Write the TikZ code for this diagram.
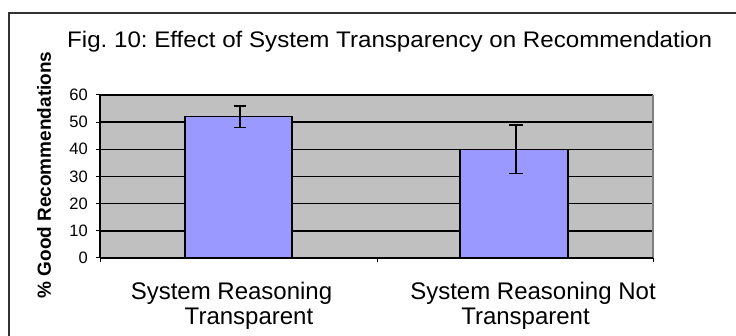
\documentclass[tikz,border=0pt]{standalone}
\usepackage{fontspec}
\setmainfont{Liberation Sans}
\frenchspacing
\definecolor{plotgray}{HTML}{C0C0C0}
\definecolor{barblue}{HTML}{9999FF}
\definecolor{framegray}{HTML}{333333}
\newcommand{\titlefont}{\fontsize{22.5}{27}\selectfont}
\newcommand{\tickfont}{\fontsize{16.5}{20}\selectfont}
\newcommand{\catfont}{\fontsize{24}{29}\selectfont}
\newcommand{\ylabfont}{\fontsize{19}{23}\selectfont\bfseries}
\tikzset{
    grid line/.style={black, line width=1.5pt},
    bar/.style={draw=black, line width=1.5pt, fill=barblue},
    err bar/.style={black, line width=1.4pt},
}
\begin{document}
\begin{tikzpicture}[x=1pt, y=1pt]
        \useasboundingbox (0,0) rectangle (736,336);
        \clip (0,0) rectangle (736,336);
        % outer chart frame
        \draw[framegray, line width=1.6pt] (9,-10) rectangle (750,323);
        \node[anchor=base west, inner sep=0pt, xscale=1.072] (title) at (67,288) {\titlefont Fig. 10: Effect of System Transparency on Recommendation};
        \node[rotate=90, inner sep=0pt] (ylab) at (44,161) {\ylabfont \% Good Recommendations};
        \begin{scope}[shift={(100,78)}, y=2.717pt]
            \fill[plotgray] (0,0) rectangle (553,60);
            \foreach \v in {10,20,...,60}
                \draw[grid line] (0,\v) -- (553,\v);
            \draw[gray, line width=1.2pt] (553,0) -- (553,60);
            % bars and error bars
            \draw[bar] (85,0) rectangle (192,52);
            \draw[bar] (360,0) rectangle (468,40);
            \draw[err bar] (140,48) -- (140,56);
            \draw[err bar] (134,48) -- (146,48);
            \draw[err bar] (134,56) -- (146,56);
            \draw[err bar] (416,31) -- (416,49);
            \draw[err bar] (409,31) -- (423,31);
            \draw[err bar] (409,49) -- (423,49);
            % axes
            \draw[black, line width=1.5pt] (0,0) -- (0,60);
            \draw[black, line width=1.5pt] (0,0) -- (553,0);
            \foreach \v in {0,10,...,60} {
                \draw[black, line width=1pt] (-4,\v) -- (0,\v);
                \node[anchor=east, inner sep=0pt] (tick\v) at (-12,\v) {\tickfont\v};
            }
            \foreach \x in {0,277,553}
                \draw[black, line width=1pt] (\x,0) -- (\x,-1.6);
        \end{scope}
        \node[anchor=base, inner sep=0pt] (catAa) at (231.5,36) {\catfont System Reasoning};
        \node[anchor=base, inner sep=0pt] (catAb) at (249,11) {\catfont Transparent};
        \node[anchor=base, inner sep=0pt] (catBa) at (533,36) {\catfont System Reasoning Not};
        \node[anchor=base, inner sep=0pt] (catBb) at (525.5,11) {\catfont Transparent};
    \end{tikzpicture}
\end{document}
